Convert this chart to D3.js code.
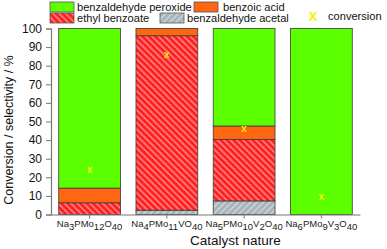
<!DOCTYPE html>
<html><head><meta charset="utf-8">
<script src="https://cdn.jsdelivr.net/npm/d3@7"></script>
<style>body{margin:0;background:#fff}svg{display:block;font-family:"Liberation Sans",Arial,sans-serif}</style>
</head><body><svg id="c" width="387" height="249"></svg>
<script>
const categories = ["Na3PMo12O40","Na4PMo11VO40","Na5PMo10V2O40","Na6PMo9V3O40"];
const catLabels = [
  [["Na",""],["3","sub"],["PMo",""],["12","sub"],["O",""],["40","sub"]],
  [["Na",""],["4","sub"],["PMo",""],["11","sub"],["VO",""],["40","sub"]],
  [["Na",""],["5","sub"],["PMo",""],["10","sub"],["V",""],["2","sub"],["O",""],["40","sub"]],
  [["Na",""],["6","sub"],["PMo",""],["9","sub"],["V",""],["3","sub"],["O",""],["40","sub"]]
];
const seriesNames = ["benzaldehyde acetal","ethyl benzoate","benzoic acid","benzaldehyde peroxide"];
const acetal    = [0, 2.3, 7.3, 0];
const ethyl     = [6.3, 93.8, 33.1, 0];
const benzoic   = [7.9, 3.9, 7.2, 0];
const peroxide  = [85.8, 0, 52.4, 100];
const conversion = [24, 86, 46, 9.6];
const yTicks = [0,10,20,30,40,50,60,70,80,90,100];

const svg = d3.select("#c");
const defs = svg.append("defs");
function hatch(id, bg, fg, dir){
  const p = defs.append("pattern").attr("id", id).attr("patternUnits","userSpaceOnUse")
    .attr("width",4.5).attr("height",4.5).attr("patternTransform", "rotate(" + (dir>0?45:-45) + ")");
  p.append("rect").attr("width",4.5).attr("height",4.5).attr("fill",bg);
  p.append("rect").attr("width",1.5).attr("height",4.5).attr("fill",fg);
}
hatch("hRed", "#ff2121", "#ff8a8a", -1);
hatch("hGrey", "#a7b3b9", "#ccd5d9", 1);

const fills = {
  "benzaldehyde acetal": "url(#hGrey)",
  "ethyl benzoate": "url(#hRed)",
  "benzoic acid": "#ff6611",
  "benzaldehyde peroxide": "#5cff00"
};
const seriesVals = [acetal, ethyl, benzoic, peroxide];

const x = d3.scaleBand().domain(categories).range([51, 360]).paddingInner(0.2).paddingOuter(0.1);
const y = d3.scaleLinear().domain([0,100]).range([214.5, 28.5]);

const data = categories.map((c,i)=>{ const o={cat:c}; seriesNames.forEach((s,k)=>o[s]=seriesVals[k][i]); return o; });
const stacked = d3.stack().keys(seriesNames)(data);

svg.append("g").selectAll("g").data(stacked).join("g")
  .attr("fill", d=>fills[d.key])
  .selectAll("rect").data(d=>d.filter(v=>v[1]-v[0]>0)).join("rect")
  .attr("x", d=>x(d.data.cat)).attr("width", x.bandwidth())
  .attr("y", d=>y(d[1])).attr("height", d=>y(d[0])-y(d[1]))
  .attr("stroke","#3a3a3a").attr("stroke-width",0.8);

// conversion markers
svg.append("g").selectAll("text").data(conversion).join("text")
  .attr("x",(d,i)=>x(categories[i])+x.bandwidth()/2).attr("y",d=>y(d))
  .attr("text-anchor","middle").attr("dy","0.35em")
  .attr("fill","#f2f200").attr("font-size",10).attr("font-weight","bold").text("x");

// y axis
const ya = svg.append("g").attr("transform","translate(51,0)")
  .call(d3.axisLeft(y).tickValues(yTicks).tickSize(5).tickPadding(4));
ya.select(".domain").attr("stroke","#777").attr("stroke-width",1.2);
ya.selectAll(".tick line").attr("stroke","#777");
ya.selectAll("text").attr("font-size",12).attr("fill","#111").attr("font-family","Liberation Sans, Arial, sans-serif");

// x axis
const xa = svg.append("g").attr("transform","translate(0,214.5)")
  .call(d3.axisBottom(x).tickSize(4).tickSizeOuter(0).tickFormat(""));
xa.select(".domain").attr("stroke","#777").attr("stroke-width",1.2);
xa.selectAll(".tick line").attr("stroke","#777");
xa.selectAll(".tick").each(function(d,i){
  const t = d3.select(this).append("text").attr("y",12).attr("text-anchor","middle")
    .attr("fill","#222").attr("font-size",9.5);
  catLabels[i].forEach(([s,k])=>{
    const ts = t.append("tspan").text(s);
    if(k==="sub") ts.attr("baseline-shift","-25%");
  });
});

svg.append("text").attr("x",190).attr("y",245)
  .attr("font-size",13.5).attr("fill","#111").text("Catalyst nature");
svg.append("text").attr("transform","translate(13,130) rotate(-90)").attr("text-anchor","middle")
  .attr("font-size",12.5).attr("fill","#111").text("Conversion / selectivity / %");

// legend
const leg = [
  {name:"benzaldehyde peroxide", bx:50, tx:77, y:2},
  {name:"benzoic acid", bx:194, tx:223, y:2},
  {name:"ethyl benzoate", bx:50, tx:77, y:13},
  {name:"benzaldehyde acetal", bx:160, tx:187, y:13}
];
const lg = svg.append("g");
leg.forEach(l=>{
  lg.append("rect").attr("x",l.bx).attr("y",l.y).attr("width",24).attr("height",10)
    .attr("fill",fills[l.name]).attr("stroke","#555").attr("stroke-width",0.8);
  lg.append("text").attr("x",l.tx).attr("y",l.y+9).attr("font-size",11.1).attr("fill","#111").text(l.name);
});
lg.append("text").attr("x",313).attr("y",20.5).attr("text-anchor","middle").attr("fill","#f2f200")
  .attr("font-size",13).attr("font-weight","bold").text("X");
lg.append("text").attr("x",328).attr("y",20).attr("font-size",11.1).attr("fill","#111").text("conversion");
</script></body></html>
